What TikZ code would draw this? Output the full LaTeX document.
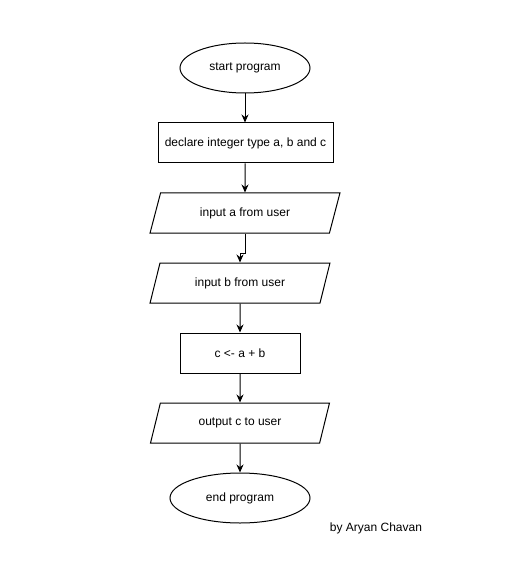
\documentclass[tikz,border=0pt]{standalone}
\usepackage{fontspec}
\setmainfont{Liberation Sans}
\usetikzlibrary{shapes.geometric,arrows.meta}

\begin{document}
\begin{tikzpicture}[x=1pt, y=-1pt, line width=1pt, >={Stealth[length=8pt,width=7pt]},
	every node/.style={font=\fontsize{12}{14}\selectfont, inner sep=0},
	terminal/.style={ellipse, draw, minimum width=130pt, minimum height=50pt},
	process/.style={rectangle, draw, minimum width=175pt, minimum height=40pt},
	io/.style={trapezium, draw, trapezium stretches=true, trapezium left angle=63.43, trapezium right angle=116.57, minimum width=190pt, minimum height=40pt}]
		
		\useasboundingbox (0,0) rectangle (524,577);
		
		\node (A) at (245,68) [terminal]  {start program};
		\node (B) at (245.5,143) [process]  {declare integer type a, b and c};
		\node (C) at (245,213) [io]  {input a from user};
		\node (D) at (240,283) [io, minimum width=180pt]  {input b from user};
		\node (E) at (240,353) [process, minimum width=120pt]  {c <- a + b};
		\node (F) at (240,423) [io, minimum width=180pt]  {output c to user};
		\node (G) at (240,498) [terminal, minimum width=140pt]  {end program};
		
		\draw[->] (A) to (A |- B.north);
		\draw[->] (B.south -| C) to (C.north);
		\draw[->] (C.south) -- ++(0,20) -| (D.north);
		\draw[->] (D.south) to (E.north);
		\draw[->] (E.south) to (F.north);
		\draw[->] (F.south) to (G.north);
		
		\node (H) at (376,528) {by Aryan Chavan};

	\end{tikzpicture}
\end{document}
